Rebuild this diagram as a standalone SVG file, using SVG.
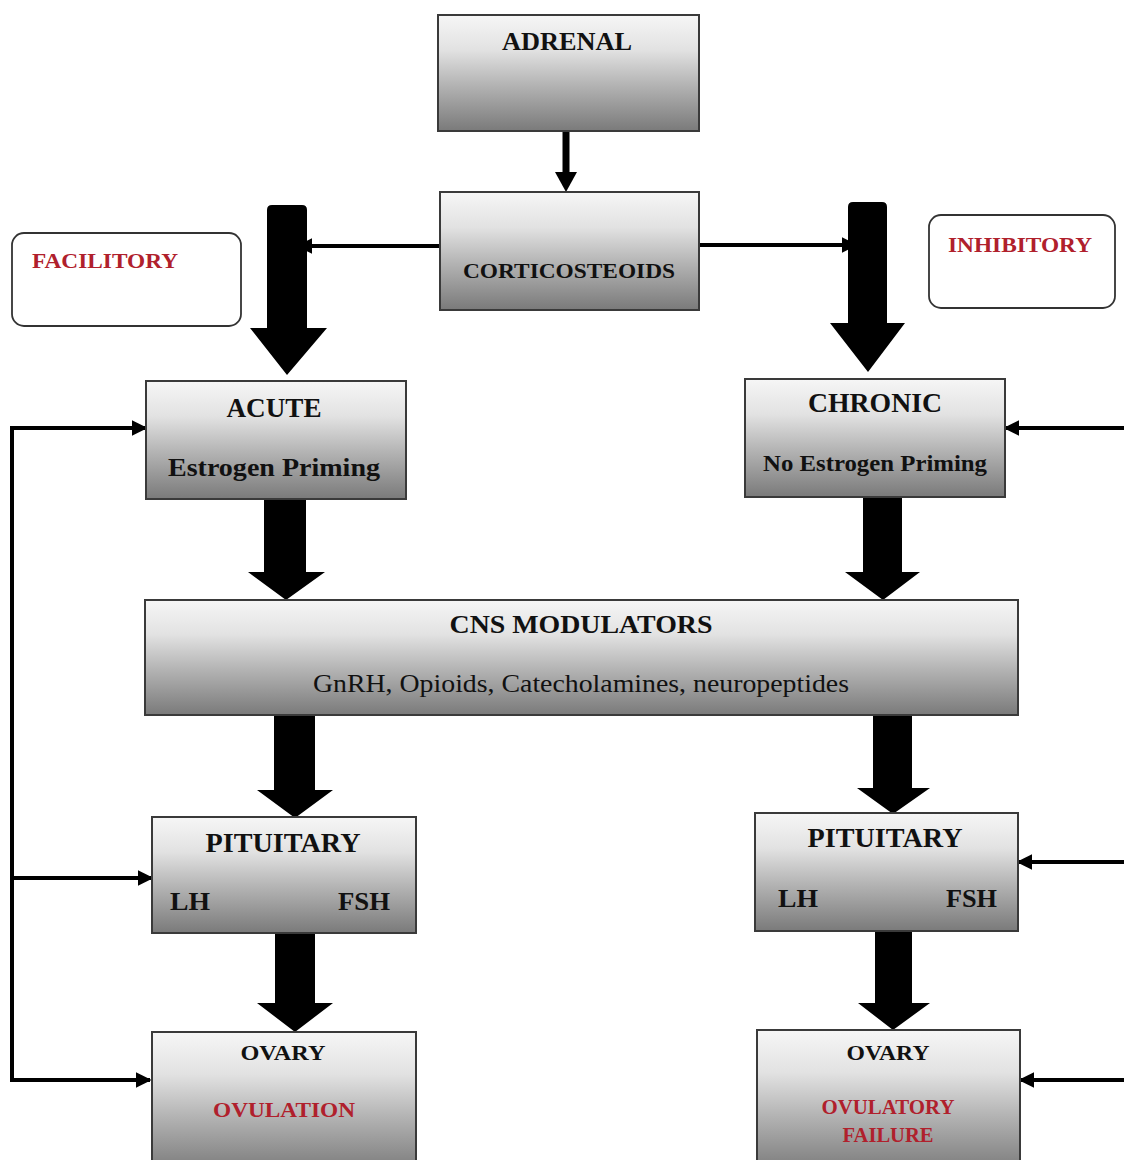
<svg xmlns="http://www.w3.org/2000/svg" width="1124" height="1160" viewBox="0 0 1124 1160">
<defs>
<linearGradient id="g" x1="0" y1="0" x2="0" y2="1">
<stop offset="0" stop-color="#f6f6f6"/>
<stop offset="0.3" stop-color="#e2e2e2"/>
<stop offset="0.6" stop-color="#b4b4b4"/>
<stop offset="1" stop-color="#7a7a7a"/>
</linearGradient>
<marker id="ah" markerWidth="4" markerHeight="4" refX="3.6" refY="2" orient="auto" markerUnits="strokeWidth">
<path d="M0,0 L4,2 L0,4 Z" fill="#000"/>
</marker>
</defs>
<style>
.box{fill:url(#g);stroke:#3a3a3a;stroke-width:2}
.rbox{fill:#fff;stroke:#333;stroke-width:1.8}
.t{font-family:"Liberation Serif","Times New Roman",serif;font-weight:bold;fill:#111}
.r{font-family:"Liberation Serif","Times New Roman",serif;font-weight:bold;fill:#b0202c}
.thin{stroke:#000;stroke-width:4;fill:none}
.big{fill:#000}
</style>

<g id="connectors">
<line x1="566" y1="131" x2="566" y2="174" stroke="#000" stroke-width="7"/>
<polygon class="big" points="555,172 577,172 566,192"/>
<line class="thin" x1="440" y1="246" x2="298" y2="246" marker-end="url(#ah)"/>
<line class="thin" x1="699" y1="245" x2="856" y2="245" marker-end="url(#ah)"/>
<path class="big" d="M267,210 Q267,205 272,205 L302,205 Q307,205 307,210 L307,328 L327,328 L287,375 L250,328 L267,328 Z"/>
<path class="big" d="M848,207 Q848,202 853,202 L882,202 Q887,202 887,207 L887,323 L905,323 L868,372 L830,323 L848,323 Z"/>
<path class="big" d="M264,499 L306,499 L306,572 L325,572 L286,600 L248,572 L264,572 Z"/>
<path class="big" d="M863,497 L902,497 L902,572 L920,572 L883,600 L845,572 L863,572 Z"/>
<path class="big" d="M274,715 L315,715 L315,790 L333,790 L295,818 L257,790 L274,790 Z"/>
<path class="big" d="M873,712 L912,712 L912,788 L930,788 L893,814 L857,788 L873,788 Z"/>
<path class="big" d="M275,933 L315,933 L315,1003 L333,1003 L295,1032 L257,1003 L275,1003 Z"/>
<path class="big" d="M875,931 L912,931 L912,1003 L930,1003 L893,1030 L858,1003 L875,1003 Z"/>
<polyline class="thin" points="146,428 12,428 12,1080 150,1080" marker-end="url(#ah)"/>
<line class="thin" x1="12" y1="428" x2="146" y2="428" marker-end="url(#ah)"/>
<line class="thin" x1="12" y1="878" x2="152" y2="878" marker-end="url(#ah)"/>
<line class="thin" x1="1124" y1="428" x2="1005" y2="428" marker-end="url(#ah)"/>
<line class="thin" x1="1124" y1="862" x2="1018" y2="862" marker-end="url(#ah)"/>
<line class="thin" x1="1124" y1="1080" x2="1020" y2="1080" marker-end="url(#ah)"/>
</g>

<g id="adrenal">
<rect class="box" x="438" y="15" width="261" height="116"/>
<text class="t" x="567" y="50" font-size="26" text-anchor="middle" textLength="130" lengthAdjust="spacingAndGlyphs">ADRENAL</text>
</g>
<g id="corticosteroids">
<rect class="box" x="440" y="192" width="259" height="118"/>
<text class="t" x="569" y="278" font-size="20" text-anchor="middle" textLength="212" lengthAdjust="spacingAndGlyphs">CORTICOSTEOIDS</text>
</g>
<g id="facilitory">
<rect class="rbox" x="12" y="233" width="229" height="93" rx="12"/>
<text class="r" x="32" y="268" font-size="21" textLength="146" lengthAdjust="spacingAndGlyphs">FACILITORY</text>
</g>
<g id="inhibitory">
<rect class="rbox" x="929" y="215" width="186" height="93" rx="12"/>
<text class="r" x="948" y="252" font-size="21" textLength="144" lengthAdjust="spacingAndGlyphs">INHIBITORY</text>
</g>
<g id="acute">
<rect class="box" x="146" y="381" width="260" height="118"/>
<text class="t" x="274" y="417" font-size="27" text-anchor="middle" textLength="95" lengthAdjust="spacingAndGlyphs">ACUTE</text>
<text class="t" x="274" y="476" font-size="26" text-anchor="middle" textLength="212" lengthAdjust="spacingAndGlyphs">Estrogen Priming</text>
</g>
<g id="chronic">
<rect class="box" x="745" y="379" width="260" height="118"/>
<text class="t" x="875" y="412" font-size="27" text-anchor="middle" textLength="134" lengthAdjust="spacingAndGlyphs">CHRONIC</text>
<text class="t" x="875" y="471" font-size="24" text-anchor="middle" textLength="224" lengthAdjust="spacingAndGlyphs">No Estrogen Priming</text>
</g>
<g id="cns">
<rect class="box" x="145" y="600" width="873" height="115"/>
<text class="t" x="581" y="633" font-size="25" text-anchor="middle" textLength="263" lengthAdjust="spacingAndGlyphs">CNS MODULATORS</text>
<text font-family="Liberation Serif, Times New Roman, serif" fill="#111" x="581" y="692" font-size="25" text-anchor="middle" textLength="536" lengthAdjust="spacingAndGlyphs">GnRH, Opioids, Catecholamines, neuropeptides</text>
</g>
<g id="pituitary-left">
<rect class="box" x="152" y="817" width="264" height="116"/>
<text class="t" x="283" y="852" font-size="27" text-anchor="middle" textLength="155" lengthAdjust="spacingAndGlyphs">PITUITARY</text>
<text class="t" x="170" y="910" font-size="26" textLength="40" lengthAdjust="spacingAndGlyphs">LH</text>
<text class="t" x="338" y="910" font-size="26" textLength="52" lengthAdjust="spacingAndGlyphs">FSH</text>
</g>
<g id="pituitary-right">
<rect class="box" x="755" y="813" width="263" height="118"/>
<text class="t" x="885" y="847" font-size="27" text-anchor="middle" textLength="155" lengthAdjust="spacingAndGlyphs">PITUITARY</text>
<text class="t" x="778" y="907" font-size="26" textLength="40" lengthAdjust="spacingAndGlyphs">LH</text>
<text class="t" x="946" y="907" font-size="26" textLength="51" lengthAdjust="spacingAndGlyphs">FSH</text>
</g>
<g id="ovary-left">
<rect class="box" x="152" y="1032" width="264" height="140"/>
<text class="t" x="283" y="1060" font-size="21" text-anchor="middle" textLength="85" lengthAdjust="spacingAndGlyphs">OVARY</text>
<text class="r" x="284" y="1117" font-size="21" text-anchor="middle" textLength="142" lengthAdjust="spacingAndGlyphs">OVULATION</text>
</g>
<g id="ovary-right">
<rect class="box" x="757" y="1030" width="263" height="142"/>
<text class="t" x="888" y="1060" font-size="21" text-anchor="middle" textLength="83" lengthAdjust="spacingAndGlyphs">OVARY</text>
<text class="r" x="888" y="1114" font-size="20" text-anchor="middle" textLength="133" lengthAdjust="spacingAndGlyphs">OVULATORY</text>
<text class="r" x="888" y="1142" font-size="20" text-anchor="middle" textLength="91" lengthAdjust="spacingAndGlyphs">FAILURE</text>
</g>
</svg>
